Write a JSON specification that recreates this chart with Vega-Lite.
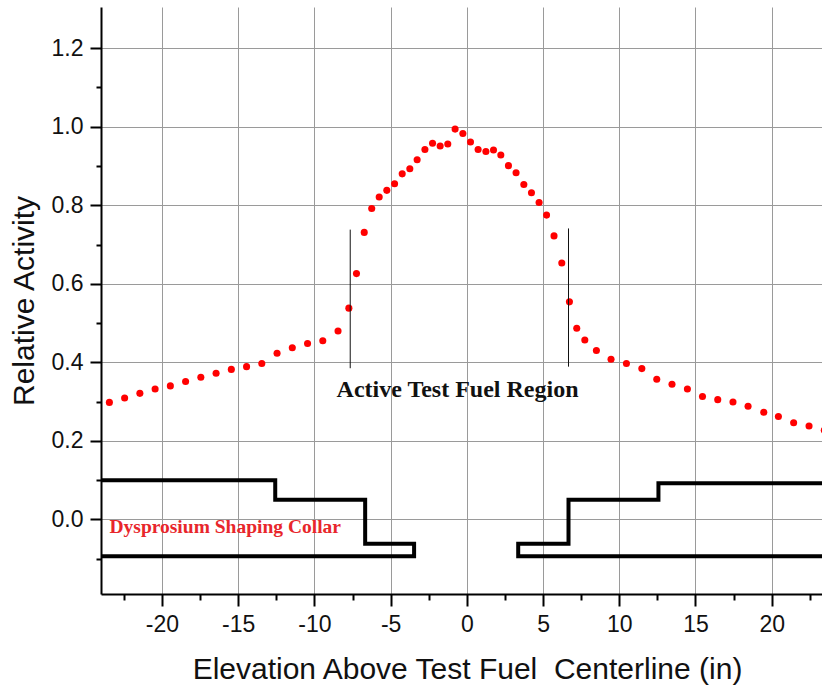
{
  "$schema": "https://vega.github.io/schema/vega-lite/v6.json",
  "width": 721,
  "height": 587,
  "autosize": {"type": "none"},
  "padding": {"left": 101, "top": 7, "right": 0, "bottom": 93},
  "background": "white",
  "config": {"view": {"stroke": null}},
  "resolve": {"axis": {"x": "independent", "y": "independent"}},
  "datasets": {
    "pts": [
      {"x": -23.45, "y": 0.298}, {"x": -22.45, "y": 0.309}, {"x": -21.45, "y": 0.321}, {"x": -20.45, "y": 0.332},
      {"x": -19.45, "y": 0.340}, {"x": -18.45, "y": 0.351}, {"x": -17.45, "y": 0.362}, {"x": -16.45, "y": 0.372},
      {"x": -15.45, "y": 0.382}, {"x": -14.45, "y": 0.389}, {"x": -13.45, "y": 0.397}, {"x": -12.45, "y": 0.423},
      {"x": -11.45, "y": 0.437}, {"x": -10.45, "y": 0.448}, {"x": -9.45, "y": 0.455}, {"x": -8.45, "y": 0.480},
      {"x": -7.74, "y": 0.538}, {"x": -7.24, "y": 0.626}, {"x": -6.73, "y": 0.731}, {"x": -6.24, "y": 0.792},
      {"x": -5.75, "y": 0.821}, {"x": -5.25, "y": 0.838}, {"x": -4.74, "y": 0.855}, {"x": -4.24, "y": 0.880},
      {"x": -3.74, "y": 0.893}, {"x": -3.26, "y": 0.916}, {"x": -2.75, "y": 0.942}, {"x": -2.25, "y": 0.958},
      {"x": -1.75, "y": 0.951}, {"x": -1.25, "y": 0.956}, {"x": -0.77, "y": 0.994}, {"x": -0.26, "y": 0.983},
      {"x": 0.24, "y": 0.961}, {"x": 0.74, "y": 0.942}, {"x": 1.25, "y": 0.937}, {"x": 1.75, "y": 0.941},
      {"x": 2.23, "y": 0.928}, {"x": 2.73, "y": 0.901}, {"x": 3.23, "y": 0.883}, {"x": 3.74, "y": 0.853},
      {"x": 4.24, "y": 0.832}, {"x": 4.74, "y": 0.807}, {"x": 5.23, "y": 0.775}, {"x": 5.72, "y": 0.722},
      {"x": 6.23, "y": 0.653}, {"x": 6.73, "y": 0.554}, {"x": 7.21, "y": 0.487}, {"x": 7.74, "y": 0.457},
      {"x": 8.50, "y": 0.430}, {"x": 9.46, "y": 0.408}, {"x": 10.47, "y": 0.397}, {"x": 11.48, "y": 0.384},
      {"x": 12.46, "y": 0.357}, {"x": 13.46, "y": 0.344}, {"x": 14.47, "y": 0.332}, {"x": 15.46, "y": 0.313},
      {"x": 16.46, "y": 0.305}, {"x": 17.46, "y": 0.299}, {"x": 18.45, "y": 0.288}, {"x": 19.48, "y": 0.273},
      {"x": 20.44, "y": 0.262}, {"x": 21.44, "y": 0.246}, {"x": 22.45, "y": 0.238}, {"x": 23.45, "y": 0.227}
    ],
    "collar": [
      {"shape": "L", "i": 0, "x": -25, "y": 0.100}, {"shape": "L", "i": 1, "x": -12.57, "y": 0.100},
      {"shape": "L", "i": 2, "x": -12.57, "y": 0.050}, {"shape": "L", "i": 3, "x": -6.67, "y": 0.050},
      {"shape": "L", "i": 4, "x": -6.67, "y": -0.062}, {"shape": "L", "i": 5, "x": -3.46, "y": -0.062},
      {"shape": "L", "i": 6, "x": -3.46, "y": -0.094}, {"shape": "L", "i": 7, "x": -25, "y": -0.094},
      {"shape": "R", "i": 0, "x": 25, "y": 0.092}, {"shape": "R", "i": 1, "x": 12.57, "y": 0.092},
      {"shape": "R", "i": 2, "x": 12.57, "y": 0.050}, {"shape": "R", "i": 3, "x": 6.67, "y": 0.050},
      {"shape": "R", "i": 4, "x": 6.67, "y": -0.062}, {"shape": "R", "i": 5, "x": 3.37, "y": -0.062},
      {"shape": "R", "i": 6, "x": 3.37, "y": -0.094}, {"shape": "R", "i": 7, "x": 25, "y": -0.094}
    ],
    "bounds": [
      {"x": -7.65, "y": 0.385, "y2": 0.738},
      {"x": 6.67, "y": 0.389, "y2": 0.741}
    ],
    "labelA": [{"x": -0.61, "y": 0.329, "label": "Active Test Fuel Region"}],
    "labelB": [{"x": -15.85, "y": -0.020, "label": "Dysprosium Shaping Collar"}]
  },
  "layer": [
    {
      "data": {"name": "pts"},
      "mark": {"type": "point", "filled": true, "color": "#ff0000", "opacity": 1, "size": 50, "clip": true},
      "encoding": {
        "x": {
          "field": "x", "type": "quantitative",
          "scale": {"domain": [-24, 23.3], "nice": false, "zero": false},
          "axis": {
            "orient": "bottom",
            "title": "Elevation Above Test Fuel \u00a0Centerline (in)",
            "values": [-20, -15, -10, -5, 0, 5, 10, 15, 20],
            "labelExpr": "'' + datum.value",
            "tickSize": 12,
            "grid": true, "gridColor": "#9a9a9a", "gridWidth": 1,
            "domainColor": "#000", "domainWidth": 2,
            "tickColor": "#000", "tickWidth": 2,
            "labelFont": "Liberation Sans", "labelFontSize": 23, "labelColor": "#111", "labelPadding": 7,
            "labelFlush": false, "labelOverlap": false,
            "titleFont": "Liberation Sans", "titleFontSize": 30, "titleFontWeight": "normal", "titleColor": "#111",
            "titlePadding": 18, "titleX": 366
          }
        },
        "y": {
          "field": "y", "type": "quantitative",
          "scale": {"domain": [-0.19, 1.305], "nice": false, "zero": false},
          "axis": {
            "orient": "left",
            "title": "Relative Activity",
            "values": [0, 0.2, 0.4, 0.6, 0.8, 1.0, 1.2],
            "format": ".1f",
            "tickSize": 11,
            "grid": true, "gridColor": "#9a9a9a", "gridWidth": 1,
            "domainColor": "#000", "domainWidth": 2,
            "tickColor": "#000", "tickWidth": 2,
            "labelFont": "Liberation Sans", "labelFontSize": 23, "labelColor": "#111", "labelPadding": 7,
            "labelFlush": false, "labelOverlap": false,
            "titleFont": "Liberation Sans", "titleFontSize": 30, "titleFontWeight": "normal", "titleColor": "#111",
            "titlePadding": 12
          }
        }
      }
    },
    {
      "data": {"name": "collar"},
      "mark": {"type": "line", "color": "#000", "strokeWidth": 4, "strokeJoin": "miter", "strokeCap": "butt", "clip": true, "interpolate": "linear"},
      "encoding": {
        "x": {"field": "x", "type": "quantitative", "axis": null},
        "y": {"field": "y", "type": "quantitative", "axis": null},
        "detail": {"field": "shape"},
        "order": {"field": "i", "type": "quantitative"}
      }
    },
    {
      "data": {"name": "bounds"},
      "mark": {"type": "rule", "color": "#111", "strokeWidth": 1},
      "encoding": {
        "x": {
          "field": "x", "type": "quantitative",
          "axis": {
            "orient": "bottom", "title": null, "labels": false, "grid": false, "domain": false,
            "values": [-22.5, -17.5, -12.5, -7.5, -2.5, 2.5, 7.5, 12.5, 17.5, 22.5],
            "tickSize": 6, "tickColor": "#000", "tickWidth": 2
          }
        },
        "y": {
          "field": "y", "type": "quantitative",
          "axis": {
            "orient": "left", "title": null, "labels": false, "grid": false, "domain": false,
            "values": [-0.1, 0.1, 0.3, 0.5, 0.7, 0.9, 1.1],
            "tickSize": 5, "tickColor": "#000", "tickWidth": 2
          }
        },
        "y2": {"field": "y2"}
      }
    },
    {
      "data": {"name": "labelA"},
      "mark": {"type": "text", "font": "Liberation Serif", "fontWeight": "bold", "fontSize": 24, "color": "#111", "align": "center", "baseline": "middle"},
      "encoding": {
        "x": {"field": "x", "type": "quantitative", "axis": null},
        "y": {"field": "y", "type": "quantitative", "axis": null},
        "text": {"field": "label"}
      }
    },
    {
      "data": {"name": "labelB"},
      "mark": {"type": "text", "font": "Liberation Serif", "fontWeight": "bold", "fontSize": 19.5, "color": "#e8262b", "align": "center", "baseline": "middle"},
      "encoding": {
        "x": {"field": "x", "type": "quantitative", "axis": null},
        "y": {"field": "y", "type": "quantitative", "axis": null},
        "text": {"field": "label"}
      }
    }
  ]
}
